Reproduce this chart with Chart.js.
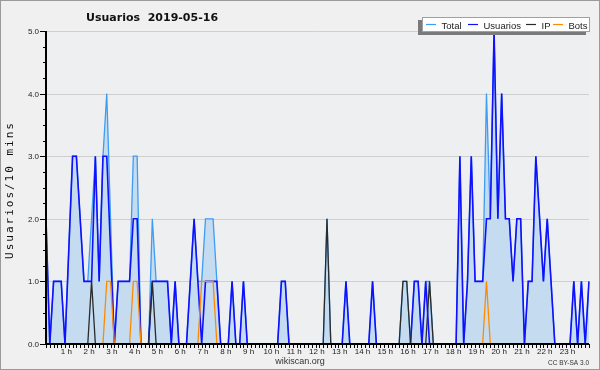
<!DOCTYPE html>
<html>
<head>
<meta charset="utf-8">
<title>Usuarios 2019-05-16</title>
<script src="https://cdn.jsdelivr.net/npm/chart.js@4.4.1/dist/chart.umd.min.js"></script>
<style>
  html, body { margin: 0; padding: 0; background: #f0f0f0; }
  canvas { display: block; }
</style>
</head>
<body>
<canvas id="usuarios" width="600" height="370"></canvas>
<script>
// Hour labels under the x axis (one every 6 slots of 10 minutes)
const hourLabels = ['1 h', '2 h', '3 h', '4 h', '5 h', '6 h', '7 h', '8 h', '9 h', '10 h', '11 h', '12 h',
    '13 h', '14 h', '15 h', '16 h', '17 h', '18 h', '19 h', '20 h', '21 h', '22 h', '23 h'];
const yTickLabels = ['0.0', '1.0', '2.0', '3.0', '4.0', '5.0'];

// Values per 10 minutes, 12 slots (2 hours) per row
const total = [
    2, 0, 1, 1, 1, 0, 1.5, 3, 3, 2, 1, 1,
    2, 3, 1, 3, 4, 2, 0, 1, 1, 1, 1, 3,
    3, 0, 0, 0, 2, 1, 1, 1, 1, 0, 1, 0,
    0, 0, 1, 2, 1, 1, 2, 2, 2, 1, 0, 0,
    0, 1, 0, 0, 1, 0, 0, 0, 0, 0, 0, 0,
    0, 0, 1, 1, 0, 0, 0, 0, 0, 0, 0, 0,
    0, 0, 2, 0, 0, 0, 0, 1, 0, 0, 0, 0,
    0, 0, 1, 0, 0, 0, 0, 0, 0, 0, 1, 1,
    0, 1, 1, 0, 1, 1, 0, 0, 0, 0, 0, 0,
    0, 3, 0, 1, 3, 1, 1, 1, 4, 2, 5, 2,
    4, 2, 2, 1, 2, 2, 0, 1, 1, 3, 2, 1,
    2, 1, 0, 0, 0, 0, 0, 1, 0, 1, 0, 1
];
const usuarios = [
    2, 0, 1, 1, 1, 0, 1.5, 3, 3, 2, 1, 1,
    1, 3, 1, 3, 3, 1.5, 0, 1, 1, 1, 1, 2,
    2, 0, 0, 0, 1, 1, 1, 1, 1, 0, 1, 0,
    0, 0, 1, 2, 1, 0, 1, 1, 1, 1, 0, 0,
    0, 1, 0, 0, 1, 0, 0, 0, 0, 0, 0, 0,
    0, 0, 1, 1, 0, 0, 0, 0, 0, 0, 0, 0,
    0, 0, 0, 0, 0, 0, 0, 1, 0, 0, 0, 0,
    0, 0, 1, 0, 0, 0, 0, 0, 0, 0, 0, 0,
    0, 1, 1, 0, 1, 0, 0, 0, 0, 0, 0, 0,
    0, 3, 0, 1, 3, 1, 1, 1, 2, 2, 5, 2,
    4, 2, 2, 1, 2, 2, 0, 1, 1, 3, 2, 1,
    2, 1, 0, 0, 0, 0, 0, 1, 0, 1, 0, 1
];
const ip = [
    0, 0, 0, 0, 0, 0, 0, 0, 0, 0, 0, 0,
    1, 0, 0, 0, 0, 0, 0, 0, 0, 0, 0, 0,
    0, 0, 0, 0, 1, 0, 0, 0, 0, 0, 0, 0,
    0, 0, 0, 0, 0, 0, 0, 0, 0, 0, 0, 0,
    0, 0, 0, 0, 0, 0, 0, 0, 0, 0, 0, 0,
    0, 0, 0, 0, 0, 0, 0, 0, 0, 0, 0, 0,
    0, 0, 2, 0, 0, 0, 0, 0, 0, 0, 0, 0,
    0, 0, 0, 0, 0, 0, 0, 0, 0, 0, 1, 1,
    0, 0, 0, 0, 0, 1, 0, 0, 0, 0, 0, 0,
    0, 0, 0, 0, 0, 0, 0, 0, 0, 0, 0, 0,
    0, 0, 0, 0, 0, 0, 0, 0, 0, 0, 0, 0,
    0, 0, 0, 0, 0, 0, 0, 0, 0, 0, 0, 0
];
const bots = [
    0, 0, 0, 0, 0, 0, 0, 0, 0, 0, 0, 0,
    0, 0, 0, 0, 1, 1, 0, 0, 0, 0, 0, 1,
    1, 0, 0, 0, 0, 0, 0, 0, 0, 0, 0, 0,
    0, 0, 0, 0, 0, 1, 1, 1, 1, 0, 0, 0,
    0, 0, 0, 0, 0, 0, 0, 0, 0, 0, 0, 0,
    0, 0, 0, 0, 0, 0, 0, 0, 0, 0, 0, 0,
    0, 0, 0, 0, 0, 0, 0, 0, 0, 0, 0, 0,
    0, 0, 0, 0, 0, 0, 0, 0, 0, 0, 0, 0,
    0, 0, 0, 0, 0, 0, 0, 0, 0, 0, 0, 0,
    0, 0, 0, 0, 0, 0, 0, 0, 1, 0, 0, 0,
    0, 0, 0, 0, 0, 0, 0, 0, 0, 0, 0, 0,
    0, 0, 0, 0, 0, 0, 0, 0, 0, 0, 0, 0
];

// One category per 10 minute slot
let slots = total.map((v, i) => String(Math.floor(i / 6)).padStart(2, '0') + ':' + (i % 6) + '0');

// Where each legend entry starts inside the legend box
let legendX = [426, 468, 526, 553];

/*
*   Draws the frame: backgrounds, grid, axes, ticks, texts and legend box
*/
let framePlugin = {
    id: 'frame',
    beforeDraw(chart) {
        let ctx = chart.ctx, a = chart.chartArea, ys = chart.scales.y;
        ctx.save();
        ctx.fillStyle = '#f0f0f0';
        ctx.fillRect(0, 0, chart.width, chart.height);
        ctx.strokeStyle = '#9a9a9a';
        ctx.lineWidth = 1;
        ctx.strokeRect(0.5, 0.5, chart.width - 1, chart.height - 1);
        ctx.fillStyle = '#eeeff1';
        ctx.fillRect(a.left, a.top, a.right - a.left, a.bottom - a.top);
        // Horizontal grid
        ctx.strokeStyle = '#cfcfcf';
        for (let k = 1; k < yTickLabels.length; k++) {
            let py = Math.round(ys.getPixelForValue(k)) + 0.5;
            ctx.beginPath();
            ctx.moveTo(a.left, py);
            ctx.lineTo(a.right, py);
            ctx.stroke();
        }
        ctx.restore();
    },
    afterDraw(chart) {
        let ctx = chart.ctx, a = chart.chartArea, xs = chart.scales.x, ys = chart.scales.y;
        ctx.save();
        ctx.strokeStyle = '#000';
        ctx.fillStyle = '#222';
        ctx.lineWidth = 1;

        // Y ticks, minor every 0.25
        ctx.font = '8px "Liberation Sans", Arial, sans-serif';
        ctx.textAlign = 'right';
        ctx.textBaseline = 'middle';
        for (let k = 0; k <= 20; k++) {
            let py = Math.round(ys.getPixelForValue(k / 4)) + 0.5;
            let len = k % 4 == 0 ? 6 : 3;
            ctx.beginPath();
            ctx.moveTo(a.left - len, py);
            ctx.lineTo(a.left, py);
            ctx.stroke();
            if (k % 4 == 0) ctx.fillText(yTickLabels[k / 4], a.left - 7, py);
        }

        // X ticks, one per slot
        for (let i = 0; i < slots.length; i++) {
            let px = Math.round(xs.getPixelForValue(i)) + 0.5;
            ctx.beginPath();
            ctx.moveTo(px, a.bottom);
            ctx.lineTo(px, a.bottom + 4);
            ctx.stroke();
        }
        ctx.textAlign = 'center';
        ctx.textBaseline = 'alphabetic';
        hourLabels.forEach((lbl, h) => {
            ctx.fillText(lbl, xs.getPixelForValue((h + 1) * 6) - 2.5, a.bottom + 9.5);
        });

        // Axis lines
        ctx.lineWidth = 2;
        ctx.beginPath();
        ctx.moveTo(a.left, a.top);
        ctx.lineTo(a.left, a.bottom);
        ctx.lineTo(a.right, a.bottom);
        ctx.stroke();

        // Title
        ctx.fillStyle = '#111';
        ctx.textAlign = 'left';
        ctx.font = 'bold 11px "DejaVu Sans"';
        ctx.fillText('Usuarios  2019-05-16', 86, 20.5);

        // Y axis title
        ctx.save();
        ctx.translate(13, 190);
        ctx.rotate(-Math.PI / 2);
        ctx.textAlign = 'center';
        ctx.font = '11px "DejaVu Sans Mono"';
        ctx.letterSpacing = '2px';
        ctx.fillText('Usuarios/10 mins', 0, 0);
        ctx.restore();

        // Footer
        ctx.fillStyle = '#333';
        ctx.textAlign = 'center';
        ctx.font = '9px "Liberation Sans", Arial, sans-serif';
        ctx.fillText('wikiscan.org', 300, 363.5);
        ctx.textAlign = 'right';
        ctx.font = '6.5px "Liberation Sans", Arial, sans-serif';
        ctx.fillText('CC BY-SA 3.0', 589, 365);

        // Legend box with its shadow
        ctx.fillStyle = '#7a7a7a';
        ctx.fillRect(418, 20, 168, 15);
        ctx.fillStyle = '#ffffff';
        ctx.fillRect(422, 17, 168, 15);
        ctx.lineWidth = 1;
        ctx.strokeStyle = '#a0a0a0';
        ctx.strokeRect(422.5, 17.5, 167, 14);
        ctx.font = '9.5px "Liberation Sans", Arial, sans-serif';
        ctx.textAlign = 'left';
        chart.data.datasets.forEach((ds, n) => {
            let lx = legendX[n];
            ctx.strokeStyle = ds.borderColor;
            ctx.lineWidth = 1.2;
            ctx.beginPath();
            ctx.moveTo(lx, 24.5);
            ctx.lineTo(lx + 10, 24.5);
            ctx.stroke();
            ctx.fillStyle = '#222';
            ctx.fillText(ds.label, lx + 15.5, 28.5);
        });
        ctx.restore();
    }
};

let ctx = document.getElementById('usuarios').getContext('2d');
let chart = new Chart(ctx, {
    type: 'line',
    data: {
        labels: slots,
        datasets: [
            {
                label: 'Total',
                data: total,
                borderColor: '#3d9cf3',
                backgroundColor: '#c5dcf0',
                borderWidth: 1.3,
                fill: 'origin',
                order: 4
            },
            {
                label: 'Usuarios',
                data: usuarios,
                borderColor: '#1010ff',
                borderWidth: 1.6,
                fill: false,
                order: 3
            },
            {
                label: 'IP',
                data: ip,
                borderColor: '#2b2b2b',
                borderWidth: 1.3,
                fill: false,
                order: 2
            },
            {
                label: 'Bots',
                data: bots,
                borderColor: '#ff8a00',
                borderWidth: 1.3,
                fill: false,
                order: 1
            }
        ]
    },
    options: {
        responsive: false,
        animation: false,
        devicePixelRatio: 1,
        layout: { padding: { left: 46, right: 11, top: 31, bottom: 26 } },
        elements: { point: { radius: 0 }, line: { tension: 0 } },
        scales: {
            x: { type: 'category', display: false },
            y: { min: 0, max: 5, display: false }
        },
        plugins: {
            legend: { display: false },
            tooltip: { enabled: false }
        }
    },
    plugins: [framePlugin]
});
</script>
</body>
</html>
